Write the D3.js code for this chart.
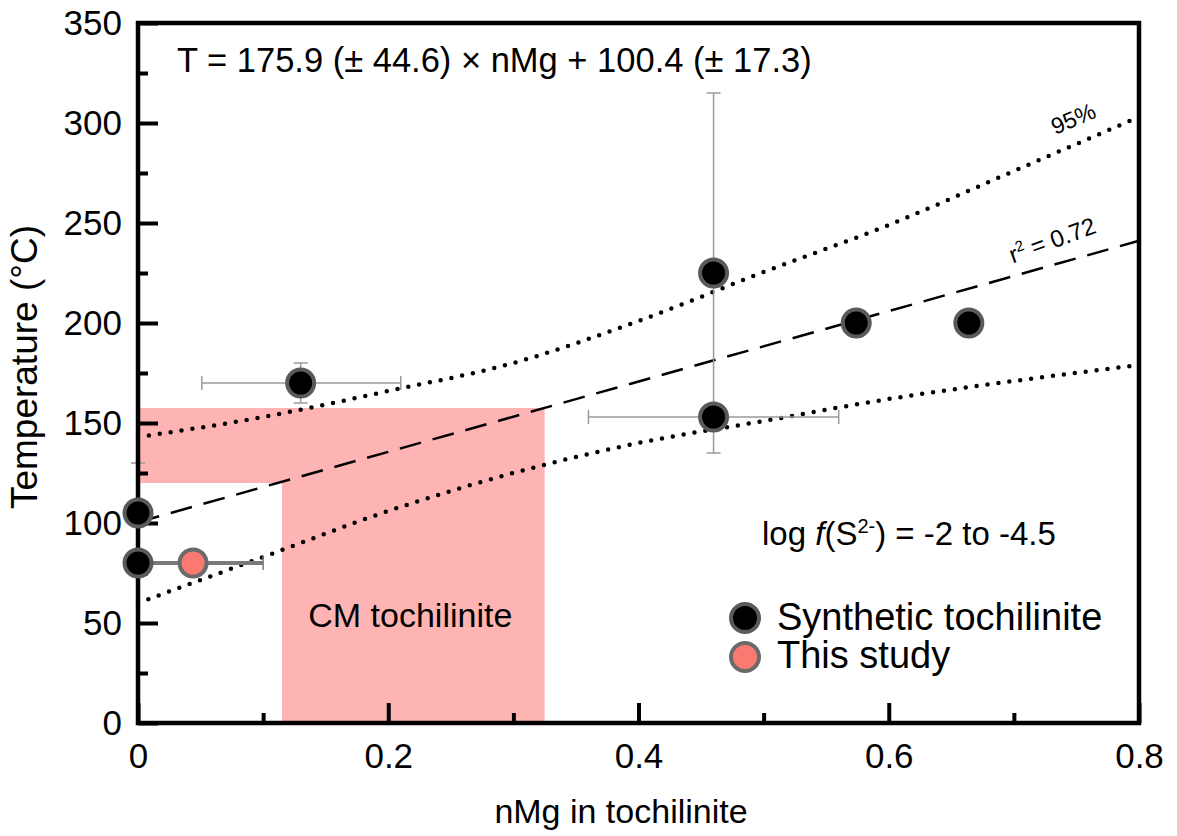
<!DOCTYPE html>
<html>
<head>
<meta charset="utf-8">
<script src="https://cdn.jsdelivr.net/npm/d3@7"></script>
<style>
  body { margin: 0; background: #fff; }
  text { font-family: Arial, "Liberation Sans", sans-serif; fill: #000; }
</style>
</head>
<body>
<div id="my_dataviz"></div>
<script>
// synthetic tochilinite experiments
var synX = [0, 0, 0.13, 0.46, 0.46, 0.574, 0.664];
var synT = [105, 80, 170, 225, 153, 200, 200];
var synXlo = [null, null, 0.051, null, 0.36, null, null];
var synXhi = [null, null, 0.21, null, 0.56, null, null];
var synTlo = [80, null, 160, 135, null, null, null];
var synThi = [130, null, 180, 315, null, null, null];

// this study
var studyX = [0.044];
var studyT = [80];
var studyXlo = [0];
var studyXhi = [0.1];

// fit and 95% band
var fitX = [0, 0.8];
var fitT = [100.4, 241.1];
var bandX = [0, 0.1, 0.2, 0.3, 0.4, 0.5, 0.6, 0.7, 0.8];
var bandUpper = [143, 153, 166, 180, 201, 225.5, 249, 276, 303];
var bandLower = [60, 83, 106, 125, 140, 151, 162, 171, 179];

// CM tochilinite field
var cmX = [0.115, 0.325];
var cmT = [120, 157.5];

var xMajor = [0, 0.2, 0.4, 0.6, 0.8];
var xMinor = [0.1, 0.3, 0.5, 0.7];
var yMajor = [0, 50, 100, 150, 200, 250, 300, 350];
var yMinor = [25, 75, 125, 175, 225, 275, 325];

var margin = {top: 23, right: 38, bottom: 113, left: 138};
var width = 1177 - margin.left - margin.right;
var height = 836 - margin.top - margin.bottom;

var svg = d3.select("#my_dataviz")
  .append("svg")
    .attr("width", 1177)
    .attr("height", 836)
  .append("g")
    .attr("transform", "translate(" + margin.left + "," + margin.top + ")");

var x = d3.scaleLinear().domain([0, 0.8]).range([0, width]);
var y = d3.scaleLinear().domain([0, 350]).range([height, 0]);

// pink field (L shape)
svg.append("rect")
  .attr("x", x(0)).attr("y", y(cmT[1]))
  .attr("width", x(cmX[1]) - x(0))
  .attr("height", y(cmT[0]) - y(cmT[1]))
  .attr("fill", "#ffb4b4");
svg.append("rect")
  .attr("x", x(cmX[0])).attr("y", y(cmT[0]))
  .attr("width", x(cmX[1]) - x(cmX[0]))
  .attr("height", y(0) - y(cmT[0]))
  .attr("fill", "#ffb4b4");

svg.append("text")
  .attr("x", (x(cmX[0]) + x(cmX[1])) / 2 - 3)
  .attr("y", 604)
  .style("text-anchor", "middle")
  .style("font-size", "34px")
  .text("CM tochilinite");

// band + fit
var band = d3.line().curve(d3.curveMonotoneX)
  .x(function(d) { return x(d[0]) })
  .y(function(d) { return y(d[1]) });

[bandUpper, bandLower].forEach(function(b) {
  svg.append("path")
    .datum(d3.zip(bandX, b))
    .attr("fill", "none")
    .attr("stroke", "#000")
    .attr("stroke-width", 4.5)
    .attr("stroke-linecap", "round")
    .attr("stroke-dasharray", "0 11")
    .attr("d", band);
});

svg.append("path")
  .datum(d3.zip(fitX, fitT))
  .attr("fill", "none")
  .attr("stroke", "#000")
  .attr("stroke-width", 2.5)
  .attr("stroke-dasharray", "22 12")
  .attr("d", band);

svg.append("text")
  .attr("transform", "translate(" + x(0.75) + "," + y(298.5) + ") rotate(-23)")
  .style("text-anchor", "middle")
  .style("font-size", "23px")
  .text("95%");

var r2 = svg.append("text")
  .attr("transform", "translate(" + x(0.733) + "," + y(237.5) + ") rotate(-20)")
  .style("text-anchor", "middle")
  .style("font-size", "24px");
r2.append("tspan").text("r");
r2.append("tspan").attr("dy", -9).style("font-size", "15px").text("2");
r2.append("tspan").attr("dy", 9).text(" = 0.72");

// error bars
var cap = 7;
function errX(g, xv, yv, lo, hi, col, w) {
  g.append("line").attr("x1", x(lo)).attr("x2", x(hi)).attr("y1", y(yv)).attr("y2", y(yv))
    .attr("stroke", col).attr("stroke-width", w);
  [lo, hi].forEach(function(v) {
    g.append("line").attr("x1", x(v)).attr("x2", x(v)).attr("y1", y(yv) - cap).attr("y2", y(yv) + cap)
      .attr("stroke", col).attr("stroke-width", 1.5);
  });
}
function errY(g, xv, yv, lo, hi, col, w) {
  g.append("line").attr("x1", x(xv)).attr("x2", x(xv)).attr("y1", y(lo)).attr("y2", y(hi))
    .attr("stroke", col).attr("stroke-width", w);
  [lo, hi].forEach(function(v) {
    g.append("line").attr("x1", x(xv) - cap).attr("x2", x(xv) + cap).attr("y1", y(v)).attr("y2", y(v))
      .attr("stroke", col).attr("stroke-width", 1.5);
  });
}
var eg = svg.append("g");
synX.forEach(function(d, i) {
  if (synXlo[i] != null) errX(eg, d, synT[i], synXlo[i], synXhi[i], "#9a9a9a", 1.5);
  if (synTlo[i] != null) errY(eg, d, synT[i], synTlo[i], synThi[i], "#9a9a9a", 1.5);
});
studyX.forEach(function(d, i) {
  errX(eg, d, studyT[i], studyXlo[i], studyXhi[i], "#7a7a7a", 4);
});

// axes frame
svg.append("rect")
  .attr("x", 0).attr("y", 0).attr("width", width).attr("height", height)
  .attr("fill", "none").attr("stroke", "#000").attr("stroke-width", 4.5);

function styleAxis(g) {
  g.select(".domain").remove();
  g.selectAll("line").attr("stroke-width", 4);
  g.selectAll("text").attr("font-size", "35px").attr("font-family", "Arial, 'Liberation Sans', sans-serif");
}

svg.append("g")
  .attr("transform", "translate(0," + height + ")")
  .call(d3.axisBottom(x).tickValues(xMinor).tickSize(-10).tickFormat(""))
  .call(styleAxis);
svg.append("g")
  .attr("transform", "translate(0," + height + ")")
  .call(d3.axisBottom(x).tickValues(xMajor).tickSize(-20).tickPadding(20).tickFormat(d3.format("")))
  .call(styleAxis);

svg.append("g")
  .call(d3.axisLeft(y).tickValues(yMinor).tickSize(-10).tickFormat(""))
  .call(styleAxis);
svg.append("g")
  .call(d3.axisLeft(y).tickValues(yMajor).tickSize(-20).tickPadding(16).tickFormat(d3.format("d")))
  .call(styleAxis);

// points
svg.append("g")
  .selectAll("circle")
  .data(d3.zip(synX, synT))
  .enter()
  .append("circle")
    .attr("cx", function(d) { return x(d[0]) })
    .attr("cy", function(d) { return y(d[1]) })
    .attr("r", 13.5)
    .attr("fill", "#000")
    .attr("stroke", "#5a5a5a")
    .attr("stroke-width", 4);

svg.append("g")
  .selectAll("circle")
  .data(d3.zip(studyX, studyT))
  .enter()
  .append("circle")
    .attr("cx", function(d) { return x(d[0]) })
    .attr("cy", function(d) { return y(d[1]) })
    .attr("r", 13.5)
    .attr("fill", "#fa7a72")
    .attr("stroke", "#6a6a6a")
    .attr("stroke-width", 4);

// texts
svg.append("text")
  .attr("x", 39).attr("y", 49)
  .style("font-size", "34.5px")
  .text("T = 175.9 (\u00b1 44.6) \u00d7 nMg + 100.4 (\u00b1 17.3)");

var lg = svg.append("text")
  .attr("x", 624).attr("y", 522)
  .style("font-size", "33px");
lg.append("tspan").text("log ");
lg.append("tspan").style("font-style", "italic").text("f");
lg.append("tspan").text("(S");
lg.append("tspan").attr("dy", -12).style("font-size", "20px").text("2-");
lg.append("tspan").attr("dy", 12).text(") = -2 to -4.5");

var legend = [["Synthetic tochilinite", "#000", "#5a5a5a"], ["This study", "#fa7a72", "#6a6a6a"]];
legend.forEach(function(l, i) {
  svg.append("circle")
    .attr("cx", 607).attr("cy", 595 + i * 39)
    .attr("r", 14).attr("fill", l[1]).attr("stroke", l[2]).attr("stroke-width", 4);
  svg.append("text")
    .attr("x", 639).attr("y", 607 + i * 38)
    .style("font-size", "38px")
    .text(l[0]);
});

svg.append("text")
  .attr("x", 483)
  .attr("y", height + 100)
  .style("text-anchor", "middle")
  .style("font-size", "34px")
  .text("nMg in tochilinite");

svg.append("text")
  .attr("transform", "rotate(-90)")
  .attr("x", -(367 - margin.top))
  .attr("y", -margin.left + 37)
  .style("text-anchor", "middle")
  .style("font-size", "37px")
  .text("Temperature (\u00b0C)");
</script>
</body>
</html>
